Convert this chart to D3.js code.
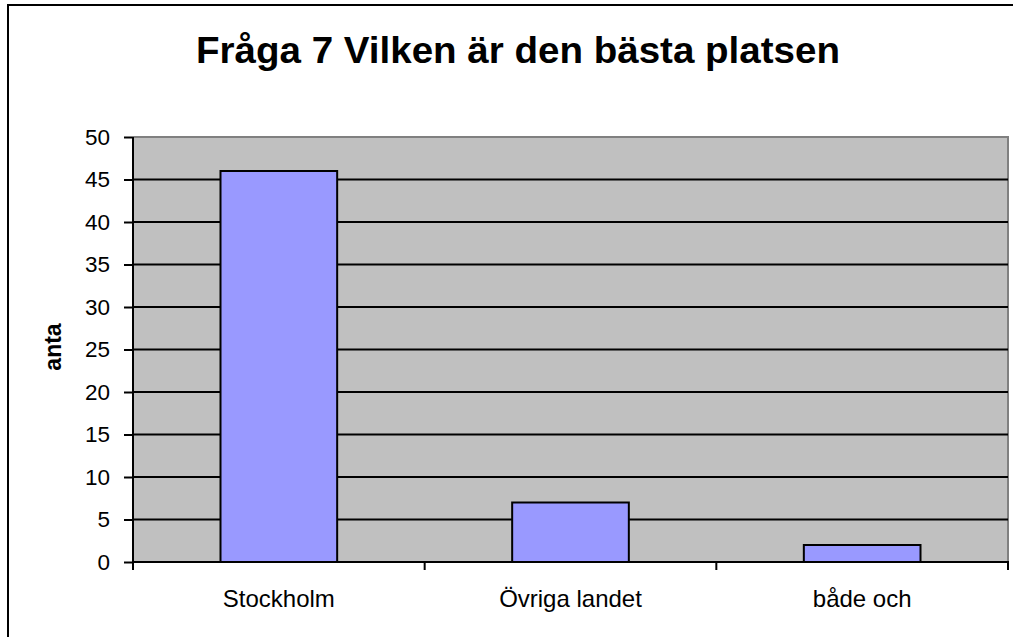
<!DOCTYPE html>
<html>
<head>
<meta charset="utf-8">
<script src="https://cdn.jsdelivr.net/npm/d3@7"></script>
<style>
  html, body { margin: 0; padding: 0; background: #fff; }
  svg { display: block; font-family: Arial, "Liberation Sans", sans-serif; }
</style>
</head>
<body>
<div id="chart"></div>
<script>
// ── data ──
const categories = ["Stockholm", "Övriga landet", "både och"];
const values = [46, 7, 2];
const yTicks = [0, 5, 10, 15, 20, 25, 30, 35, 40, 45, 50];
const titleText = "Fråga 7 Vilken är den bästa platsen";
const yLabel = "anta";

const width = 1013, height = 637;
const plot = { left: 133, right: 1008, top: 137, bottom: 562 };

const svg = d3.select("#chart").append("svg")
  .attr("width", width).attr("height", height)
  .attr("viewBox", [0, 0, width, height]);

// outer frame (right/bottom edges run off the picture)
svg.append("rect")
  .attr("x", 8).attr("y", 5).attr("width", 1030).attr("height", 660)
  .attr("fill", "#fff").attr("stroke", "#000").attr("stroke-width", 2);

const x = d3.scaleBand().domain(categories)
  .range([plot.left, plot.right]).paddingInner(0.6).paddingOuter(0.3);
const xOuter = d3.scaleBand().domain(categories).range([plot.left, plot.right]);
const y = d3.scaleLinear().domain([0, 50]).range([plot.bottom, plot.top]);

// plot area
svg.append("rect")
  .attr("x", plot.left).attr("y", plot.top)
  .attr("width", plot.right - plot.left).attr("height", plot.bottom - plot.top)
  .attr("fill", "#c0c0c0");

svg.append("path")
  .attr("d", `M${plot.left},${plot.top}H${plot.right}V${plot.bottom}`)
  .attr("fill", "none").attr("stroke", "#808080").attr("stroke-width", 2);

// gridlines
svg.append("g")
  .attr("stroke", "#000").attr("stroke-width", 2)
  .selectAll("line").data(yTicks.filter(d => d > 0 && d < 50)).join("line")
  .attr("x1", plot.left).attr("x2", plot.right)
  .attr("y1", d => y(d)).attr("y2", d => y(d));

// bars
svg.append("g")
  .selectAll("rect").data(values).join("rect")
  .attr("x", (d, i) => x(categories[i]))
  .attr("width", x.bandwidth())
  .attr("y", d => y(d))
  .attr("height", d => y(0) - y(d))
  .attr("fill", "#9999ff").attr("stroke", "#000").attr("stroke-width", 2);

// y axis
const yAxis = svg.append("g")
  .attr("transform", `translate(${plot.left},0)`)
  .call(d3.axisLeft(y).tickValues(yTicks).tickSize(9).tickPadding(14));
yAxis.select(".domain").attr("stroke", "#000").attr("stroke-width", 2)
  .attr("d", `M0,${plot.top}V${plot.bottom + 8}`);
yAxis.selectAll(".tick line").attr("stroke", "#000").attr("stroke-width", 2);
yAxis.selectAll(".tick text")
  .attr("font-size", "22.5px").attr("font-family", "Arial, 'Liberation Sans', sans-serif")
  .attr("fill", "#000");

// x axis
const xAxis = svg.append("g")
  .attr("transform", `translate(0,${plot.bottom})`);
xAxis.append("line")
  .attr("x1", plot.left).attr("x2", plot.right + 1)
  .attr("stroke", "#000").attr("stroke-width", 2);
xAxis.selectAll("line.tk").data([...categories.map(c => xOuter(c)), plot.right]).join("line")
  .attr("class", "tk")
  .attr("x1", d => d).attr("x2", d => d)
  .attr("y1", 0).attr("y2", 8)
  .attr("stroke", "#000").attr("stroke-width", 2);
xAxis.selectAll("text").data(categories).join("text")
  .attr("x", d => xOuter(d) + xOuter.bandwidth() / 2)
  .attr("y", 45)
  .attr("text-anchor", "middle")
  .attr("font-size", "24px").attr("fill", "#000")
  .text(d => d);

// y label
svg.append("text")
  .attr("transform", `translate(61,347) rotate(-90)`)
  .attr("text-anchor", "middle")
  .attr("font-size", "23px").attr("font-weight", "bold")
  .text(yLabel);

// title
const title = svg.append("text")
  .attr("x", 518).attr("y", 63)
  .attr("text-anchor", "middle")
  .attr("font-size", "36px").attr("font-weight", "bold")
  .text(titleText);
title.attr("textLength", 644).attr("lengthAdjust", "spacingAndGlyphs");
</script>
</body>
</html>
